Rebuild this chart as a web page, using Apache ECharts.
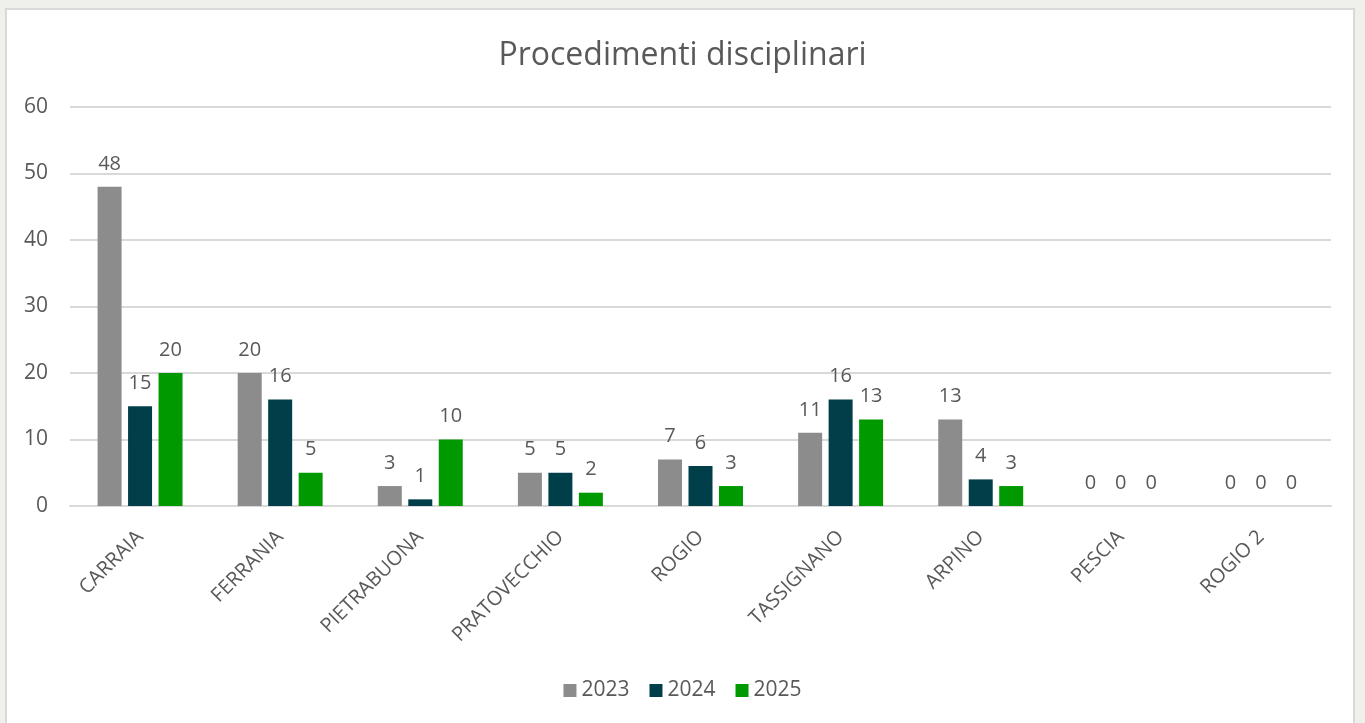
<!DOCTYPE html>
<html>
<head>
<meta charset="utf-8">
<script src="https://cdn.jsdelivr.net/npm/echarts@6/dist/echarts.min.js"></script>
<style>
html,body{margin:0;padding:0;width:1365px;height:723px;background:#efefec;overflow:hidden;}
#panel{position:absolute;left:5px;top:8px;width:1350px;height:720px;background:#fff;border:2px solid #d9d9d9;box-sizing:border-box;}
#chart{position:absolute;left:0;top:0;width:1365px;height:723px;}
</style>
</head>
<body>
<div id="panel"></div>
<div id="chart"></div>
<script>
var categories = ['CARRAIA','FERRANIA','PIETRABUONA','PRATOVECCHIO','ROGIO','TASSIGNANO','ARPINO','PESCIA','ROGIO 2'];
var s2023 = [48, 20, 3, 5, 7, 11, 13, 0, 0];
var s2024 = [15, 16, 1, 5, 6, 16, 4, 0, 0];
var s2025 = [20, 5, 10, 2, 3, 13, 3, 0, 0];
var seriesNames = ['2023','2024','2025'];
var colors = ['#8c8c8c','#003f4a','#009900'];
var fontFam = '"Open Sans", "Noto Sans", sans-serif';

var chart = echarts.init(document.getElementById('chart'));
function mk(name, data, color){
  return {
    name: name, type: 'bar', data: data, barWidth: 24, barGap: '27%',
    itemStyle: {color: color},
    label: {show: true, position: 'top', distance: 13, color: '#595959', fontSize: 20, fontFamily: fontFam},
    animation: false
  };
}
chart.setOption({
  animation: false,
  textStyle: {fontFamily: fontFam},
  title: {text: 'Procedimenti disciplinari', left: 'center', top: 35,
    textStyle: {color: '#595959', fontSize: 32, fontWeight: 'normal', fontFamily: fontFam}},
  legend: {bottom: 17, left: 'center', itemWidth: 13, itemHeight: 13, itemGap: 20, icon: 'rect',
    textStyle: {color: '#595959', fontSize: 21, fontFamily: fontFam}},
  grid: {left: 70, right: 34, top: 107, bottom: 217, containLabel: false},
  xAxis: {type: 'category', data: categories,
    axisLine: {lineStyle: {color: '#d9d9d9', width: 2}}, axisTick: {show: false},
    axisLabel: {rotate: 45, color: '#595959', fontSize: 20, margin: 28, interval: 0, fontFamily: fontFam}},
  yAxis: {type: 'value', min: 0, max: 60, interval: 10,
    axisLine: {show: false}, axisTick: {show: false},
    splitLine: {lineStyle: {color: '#d9d9d9', width: 2}},
    axisLabel: {color: '#595959', fontSize: 21, margin: 22, fontFamily: fontFam}},
  series: [mk(seriesNames[0], s2023, colors[0]), mk(seriesNames[1], s2024, colors[1]), mk(seriesNames[2], s2025, colors[2])]
});
</script>
</body>
</html>
